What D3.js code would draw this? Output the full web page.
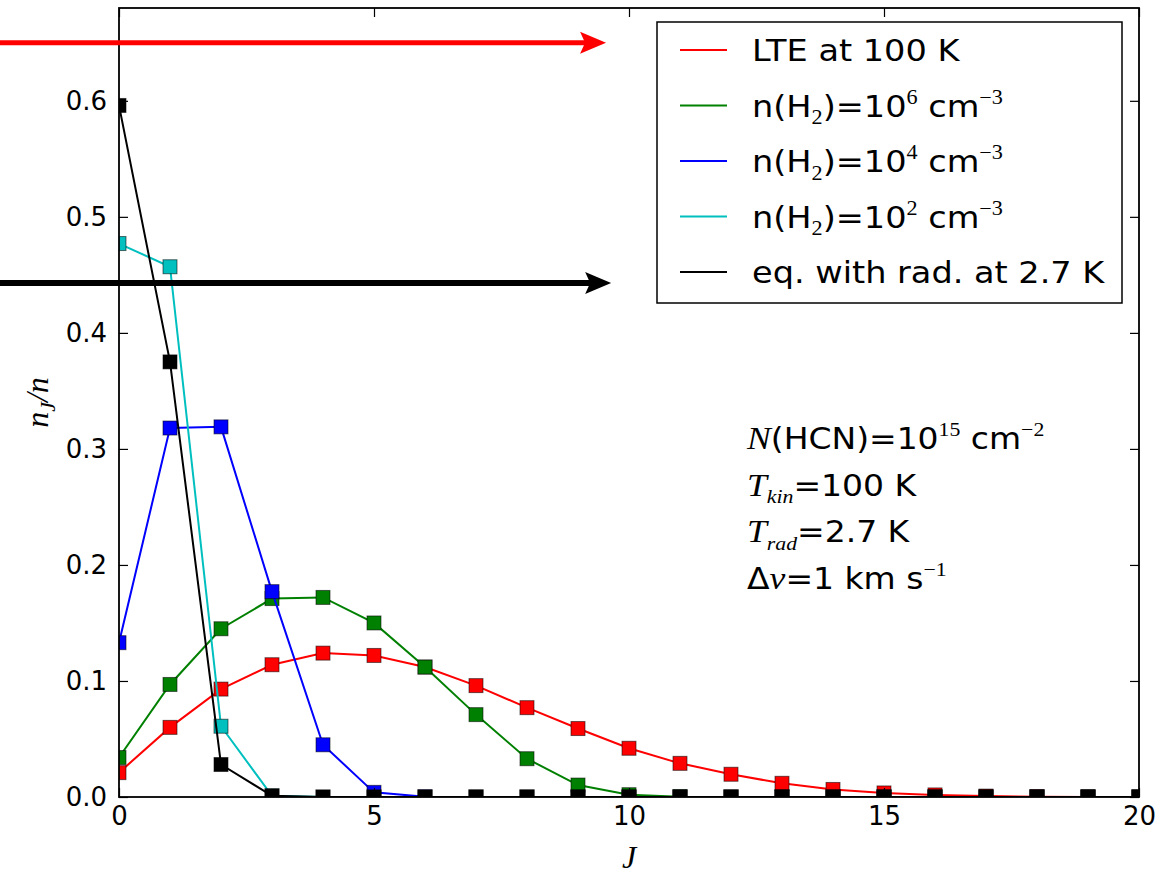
<!DOCTYPE html>
<html>
<head>
<meta charset="utf-8">
<script src="https://cdn.jsdelivr.net/npm/d3@7"></script>
<style>
  html, body { margin: 0; padding: 0; background: #fff; }
  svg { display: block; }
  .tick text { font-family: 'DejaVu Sans', sans-serif; font-size: 26px; fill: #000; }
</style>
</head>
<body>
<div id="chart"></div>
<script>
// --- data ---
const levels = [0, 1, 2, 3, 4, 5, 6, 7, 8, 9, 10, 11, 12, 13, 14, 15, 16, 17, 18, 19, 20];
const lte100 = [0.021, 0.060, 0.093, 0.114, 0.124, 0.122, 0.112, 0.096, 0.077, 0.059, 0.042,
                0.029, 0.0196, 0.0118, 0.0065, 0.0035, 0.0018, 0.0008, 0.0003, 0.0001, 0.0];
const nH2e6  = [0.034, 0.097, 0.145, 0.171, 0.172, 0.150, 0.112, 0.071, 0.033, 0.0103, 0.002,
                0.0003, 0, 0, 0, 0, 0, 0, 0, 0, 0];
const nH2e4  = [0.133, 0.318, 0.319, 0.177, 0.045, 0.004, 0.0002, 0, 0, 0, 0,
                0, 0, 0, 0, 0, 0, 0, 0, 0, 0];
const nH2e2  = [0.477, 0.457, 0.061, 0.001, 0, 0, 0, 0, 0, 0, 0,
                0, 0, 0, 0, 0, 0, 0, 0, 0, 0];
const radEq  = [0.596, 0.375, 0.028, 0.001, 0, 0, 0, 0, 0, 0, 0,
                0, 0, 0, 0, 0, 0, 0, 0, 0, 0];

const seriesNames  = ['lte', 'e6', 'e4', 'e2', 'rad'];
const seriesValues = [lte100, nH2e6, nH2e4, nH2e2, radEq];
const seriesColors = ['#ff0000', '#008000', '#0000ff', '#00bfbf', '#000000'];

const xTicks = [0, 5, 10, 15, 20];
const yTicks = [0.0, 0.1, 0.2, 0.3, 0.4, 0.5, 0.6];

// slide arrows drawn over the figure (data coords of their tips)
const arrowColors = ['#ff0000', '#000000'];
const arrowTipJ   = [9.55, 9.65];
const arrowY      = [0.65, 0.443];

// --- canvas ---
const W = 1175, H = 876;
const M = { top: 8, right: 36, bottom: 79, left: 119 };
const svg = d3.select('#chart').append('svg').attr('width', W).attr('height', H);
svg.append('rect').attr('width', W).attr('height', H).attr('fill', '#fff');

const x = d3.scaleLinear().domain([0, 20]).range([M.left, W - M.right]);
const y = d3.scaleLinear().domain([0, 0.68]).range([H - M.bottom, M.top]);

svg.append('defs').append('clipPath').attr('id', 'plot')
  .append('rect').attr('x', x(0)).attr('y', y(0.68))
  .attr('width', x(20) - x(0)).attr('height', y(0) - y(0.68));

// --- series ---
const plot = svg.append('g').attr('clip-path', 'url(#plot)');
const line = d3.line().x((d, i) => x(levels[i])).y(d => y(d));
const ms = 14;
seriesValues.forEach((vals, k) => {
  const g = plot.append('g').attr('class', 's-' + seriesNames[k]);
  g.append('path').attr('d', line(vals)).attr('fill', 'none')
    .attr('stroke', seriesColors[k]).attr('stroke-width', 2);
  g.selectAll('rect').data(vals).join('rect')
    .attr('x', (d, i) => x(levels[i]) - ms / 2).attr('y', d => y(d) - ms / 2)
    .attr('width', ms).attr('height', ms)
    .attr('fill', seriesColors[k]).attr('stroke', 'rgba(0,0,0,0.55)').attr('stroke-width', 1);
});

// --- axes (inward ticks, matplotlib classic) ---
const tl = 9;
svg.append('g').attr('transform', `translate(0,${y(0)})`)
  .call(d3.axisBottom(x).tickValues(xTicks).tickFormat(d3.format('d')).tickSizeInner(-tl).tickSizeOuter(0).tickPadding(10));
svg.append('g').attr('transform', `translate(0,${y(0.68)})`)
  .call(d3.axisTop(x).tickValues(xTicks).tickFormat('').tickSizeInner(-tl).tickSizeOuter(0));
svg.append('g').attr('transform', `translate(${x(0)},0)`)
  .call(d3.axisLeft(y).tickValues(yTicks).tickFormat(d3.format('.1f')).tickSizeInner(-tl).tickSizeOuter(0).tickPadding(12));
svg.append('g').attr('transform', `translate(${x(20)},0)`)
  .call(d3.axisRight(y).tickValues(yTicks).tickFormat('').tickSizeInner(-tl).tickSizeOuter(0));
svg.selectAll('.domain').remove();
svg.selectAll('.tick line').attr('stroke', '#000').attr('stroke-width', 1.2);
svg.append('rect').attr('x', x(0)).attr('y', y(0.68))
  .attr('width', x(20) - x(0)).attr('height', y(0) - y(0.68))
  .attr('fill', 'none').attr('stroke', '#000').attr('stroke-width', 1.8);

// --- axis labels ---
const serif = "'Liberation Serif', 'DejaVu Serif', serif";
svg.append('text').attr('x', (x(0) + x(20)) / 2).attr('y', 868)
  .attr('text-anchor', 'middle').style('font-family', serif).style('font-style', 'italic')
  .style('font-size', '32px').text('J');
const yl = svg.append('text').attr('transform', `translate(48,${(y(0) + y(0.68)) / 2}) rotate(-90)`)
  .attr('text-anchor', 'middle').style('font-family', serif).style('font-style', 'italic')
  .style('font-size', '32px');
yl.append('tspan').text('n');
yl.append('tspan').attr('dy', 7).style('font-size', '22px').text('J');
yl.append('tspan').attr('dy', -7).text('/n');

// --- legend ---
const sans = "'DejaVu Sans', sans-serif";
const lg = svg.append('g');
lg.append('rect').attr('x', 657).attr('y', 22).attr('width', 465).attr('height', 281)
  .attr('fill', '#fff').attr('stroke', '#000').attr('stroke-width', 1.5);
const legendRows = [
  [{ t: 'LTE at 100 K' }],
  [{ t: 'n(H' }, { t: '2', sub: 1 }, { t: ')=10' }, { t: '6', sup: 1 }, { t: ' cm' }, { t: '\u22123', sup: 1 }],
  [{ t: 'n(H' }, { t: '2', sub: 1 }, { t: ')=10' }, { t: '4', sup: 1 }, { t: ' cm' }, { t: '\u22123', sup: 1 }],
  [{ t: 'n(H' }, { t: '2', sub: 1 }, { t: ')=10' }, { t: '2', sup: 1 }, { t: ' cm' }, { t: '\u22123', sup: 1 }],
  [{ t: 'eq. with rad. at 2.7 K' }]
];

// rich text: runs with optional sub/sup (serif, smaller)
function rich(g, x0, y0, runs, size) {
  const t = g.append('text').attr('transform', `translate(${x0},${y0}) scale(1.1,1)`)
    .style('font-family', sans).style('font-size', size + 'px').attr('fill', '#000');
  let shift = 0;
  runs.forEach(r => {
    const target = r.sup ? -size * 0.42 : r.sub ? size * 0.25 : 0;
    const s = t.append('tspan').attr('dy', target - shift).text(r.t);
    if (r.sup || r.sub) s.style('font-family', serif).style('font-size', (size * 0.66) + 'px');
    if (r.it) s.style('font-family', serif).style('font-style', 'italic').style('font-size', (size * 1.08) + 'px');
    shift = target;
  });
  return t;
}

legendRows.forEach((runs, i) => {
  const yy = 50 + i * 55.5;
  lg.append('line').attr('x1', 680).attr('x2', 727).attr('y1', yy).attr('y2', yy)
    .attr('stroke', seriesColors[i]).attr('stroke-width', 2);
  rich(lg, 752, yy + 11, runs, 30.5);
});

// --- parameter annotations ---
const notes = [
  [{ t: 'N', it: 1 }, { t: '(HCN)=10' }, { t: '15', sup: 1 }, { t: ' cm' }, { t: '\u22122', sup: 1 }],
  [{ t: 'T', it: 1 }, { t: 'kin', sub: 1 }, { t: '=100 K' }],
  [{ t: 'T', it: 1 }, { t: 'rad', sub: 1 }, { t: '=2.7 K' }],
  [{ t: '\u0394' }, { t: 'v', it: 1 }, { t: '=1 km s' }, { t: '\u22121', sup: 1 }]
];
notes.forEach((runs, i) => {
  const t = rich(svg, 747, 449 + i * 46.5, runs, 30);
  t.selectAll('tspan').filter((d, j) => runs[j].sub && runs[j].t.length > 1)
    .style('font-style', 'italic');
});

// --- slide arrows ---
const ag = svg.append('g');
arrowColors.forEach((c, i) => {
  const tx = x(arrowTipJ[i]), ty = y(arrowY[i]);
  ag.append('line').attr('x1', 0).attr('x2', tx - 18).attr('y1', ty).attr('y2', ty)
    .attr('stroke', c).attr('stroke-width', i ? 6 : 5);
  ag.append('path').attr('d', `M${tx},${ty} L${tx - 26},${ty - 11} L${tx - 21},${ty} L${tx - 26},${ty + 11} Z`)
    .attr('fill', c);
});
</script>
</body>
</html>
